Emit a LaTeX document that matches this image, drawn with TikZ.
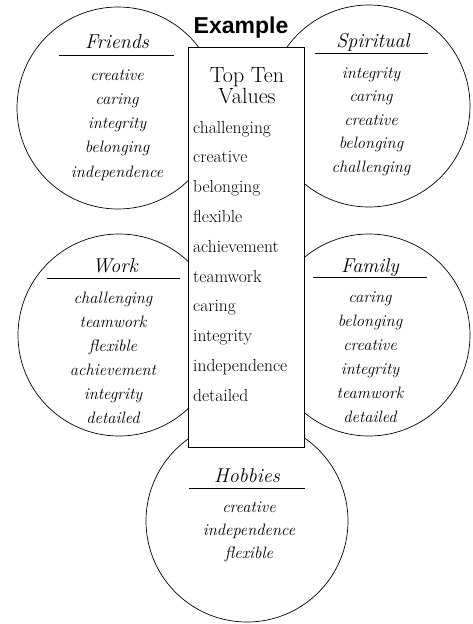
\documentclass[tikz,border=0pt]{standalone}
\usepackage{fontspec}
\newfontfamily\exfont{Liberation Sans}

\tikzset{
  valcirc/.style={draw, circle, inner sep=0pt, minimum size=202pt, line width=0.7pt},
  valtitle/.style={anchor=base, inner sep=0pt,
    font=\fontsize{20}{20}\selectfont\itshape\addfontfeatures{LetterSpace=6}},
  valitem/.style={anchor=base, inner sep=0pt, font=\fontsize{16.5}{16.5}\selectfont\itshape},
  uline/.style={line width=1pt},
  topbox/.style={draw, fill=white, line width=0.9pt, inner sep=0pt,
    minimum width=116pt, minimum height=400pt},
  toptitle/.style={anchor=base, inner sep=0pt, font=\fontsize{22}{22}\selectfont},
  topitem/.style={anchor=base west, inner sep=0pt, font=\fontsize{17.5}{17.5}\selectfont}
}

\begin{document}
\begin{tikzpicture}[x=1pt,y=-1pt]
  \useasboundingbox (0,0) rectangle (473,624);

  %% Friends
  \begin{scope}[shift={(118,108)}]
  \node[valcirc] (friends) at (0,0) {};
  \node[valtitle] (friendsT) at (-1,-60) {Friends};
  \draw[uline] (-59,-53) -- (56,-53);
  \foreach \w [count=\i] in {creative,caring,integrity,belonging,independence}
    \node[valitem] (fr\i) at (-1,{-28+24.25*(\i-1)}) {\w};
  \end{scope}

  %% Spiritual
  \begin{scope}[shift={(369,106)}]
  \node[valcirc] (spiritual) at (0,0) {};
  \node[valtitle] (spiritualT) at (4,-59) {Spiritual};
  \draw[uline] (-54,-53) -- (59,-53);
  \foreach \w [count=\i] in {integrity,caring,creative,belonging,challenging}
    \node[valitem] (sp\i) at (2,{-28+23.6*(\i-1)}) {\w};
  \end{scope}

  %% Work
  \begin{scope}[shift={(119,335)}]
  \node[valcirc] (work) at (0,0) {};
  \node[valtitle] (workT) at (-4,-63) {Work};
  \draw[uline] (-72,-57) -- (61,-57);
  \foreach \w [count=\i] in {challenging,teamwork,flexible,achievement,integrity,detailed}
    \node[valitem] (wo\i) at (-6,{-32+24.1*(\i-1)}) {\w};
  \end{scope}

  %% Family
  \begin{scope}[shift={(369,335)}]
  \node[valcirc] (family) at (0,0) {};
  \node[valtitle] (familyT) at (1,-63) {Family};
  \draw[uline] (-56,-58) -- (58,-58);
  \foreach \w [count=\i] in {caring,belonging,creative,integrity,teamwork,detailed}
    \node[valitem] (fa\i) at (1,{-33+24*(\i-1)}) {\w};
  \end{scope}

  %% Hobbies
  \begin{scope}[shift={(247,521)}]
  \node[valcirc] (hobbies) at (0,0) {};
  \node[valtitle] (hobbiesT) at (0,-39) {Hobbies};
  \draw[uline] (-58,-33) -- (58,-33);
  \foreach \w [count=\i] in {creative,independence,flexible}
    \node[valitem] (ho\i) at (2,{-9+23.3*(\i-1)}) {\w};
  \end{scope}

  %% top ten box
  \node[topbox] (top) at (246,247) {};
  \node[toptitle] (topT1) at (247,82) {Top Ten};
  \node[toptitle] (topT2) at (247,103) {Values};
  \foreach \w [count=\i] in {challenging,creative,belonging,flexible,achievement,
      teamwork,caring,integrity,independence,detailed}
    \node[topitem] (tv\i) at (193,{133+29.8*(\i-1)}) {\w};

  \node[anchor=base, inner sep=0pt, font=\exfont\bfseries\fontsize{23}{23}\selectfont]
    (example) at (241,33) {Example};
\end{tikzpicture}
\end{document}
